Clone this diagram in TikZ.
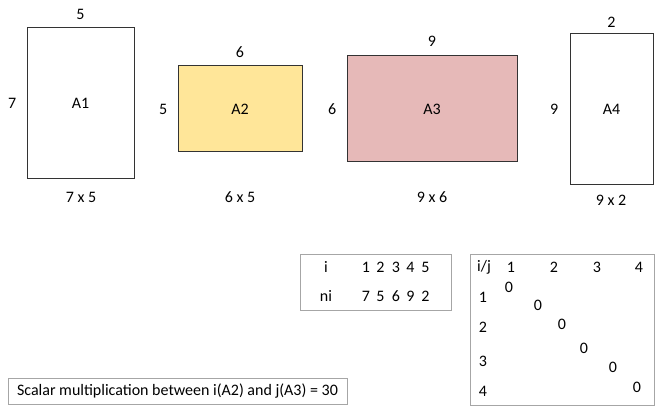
\documentclass[tikz,border=0pt]{standalone}
\usepackage{fontspec}
\setmainfont{Carlito}
\usetikzlibrary{positioning}

\definecolor{yelfill}{HTML}{FFE699}
\definecolor{rosefill}{HTML}{E6B9B8}
\tikzset{
  blk/.style={draw=black!80, line width=1pt, inner sep=0pt},
  tbl/.style={draw=black!35, line width=0.9pt, inner sep=0pt},
  lbl/.style={inner sep=0pt}
}

\begin{document}
\begin{tikzpicture}[x=1pt,y=-1pt,font=\fontsize{16}{19}\selectfont]
        \useasboundingbox (0,0) rectangle (656,409);

        %rectangles
        \node[blk, minimum width=107pt, minimum height=150pt] (a1) at (80.5,103) {A1};
        \node[blk, fill=yelfill, minimum width=124pt, minimum height=86pt] (a2) at (240,109) {A2};
        \node[blk, fill=rosefill, minimum width=170pt, minimum height=106pt] (a3) at (432,109) {A3};
        \node[blk, minimum width=83pt, minimum height=150pt] (a4) at (611.5,109) {A4};

        %sizes
        \node[lbl, above=8pt of a1] (a1top) {5};
        \node[lbl, left=10pt of a1] (a1side) {7};
        \node[lbl, above=8pt of a2] (a2top) {6};
        \node[lbl, left=10pt of a2] (a2side) {5};
        \node[lbl, above=9pt of a3] (a3top) {9};
        \node[lbl, left=10pt of a3] (a3side) {6};
        \node[lbl, above=6pt of a4] (a4top) {2};
        \node[lbl, left=11pt of a4] (a4side) {9};

        \node[lbl] (a1dim) at (81,197) {7 x 5};
        \node[lbl] (a2dim) at (240,197) {6 x 5};
        \node[lbl] (a3dim) at (432,197) {9 x 6};
        \node[lbl] (a4dim) at (611,200) {9 x 2};

        %table of n_i
        \node[tbl, minimum width=151pt, minimum height=56pt] (ntab) at (375.5,282) {};
        \node[lbl] (irow) at (326,267) {i};
        \node[lbl] (nrow) at (326,296) {ni};
        \foreach \x/\i/\n in {366/1/7, 380.5/2/5, 396/3/6, 410.5/4/9, 425.5/5/2} {
            \node[lbl] (i\i) at (\x,267) {\i};
            \node[lbl] (n\i) at (\x,296) {\n};
        }

        %matrix
        \node[tbl, minimum width=184pt, minimum height=151pt] (mtab) at (562,329.5) {};
        \node[lbl] (ij) at (484,267) {i/j};
        \foreach \x/\j in {511/1, 554/2, 597/3, 639/4}
            \node[lbl] (col\j) at (\x,267) {\j};
        \foreach \y/\i in {297/1, 327/2, 361/3, 391/4}
            \node[lbl] (row\i) at (483,\y) {\i};
        \foreach \x/\y [count=\k] in {509/287, 538/305, 562/324, 584/348, 613/367, 637/387}
            \node[lbl] (z\k) at (\x,\y) {0};

        %result
        \node[tbl, minimum width=339pt, minimum height=26pt] (res) at (177.5,391)
            {Scalar multiplication between i(A2) and j(A3) = 30};
    \end{tikzpicture}
\end{document}
